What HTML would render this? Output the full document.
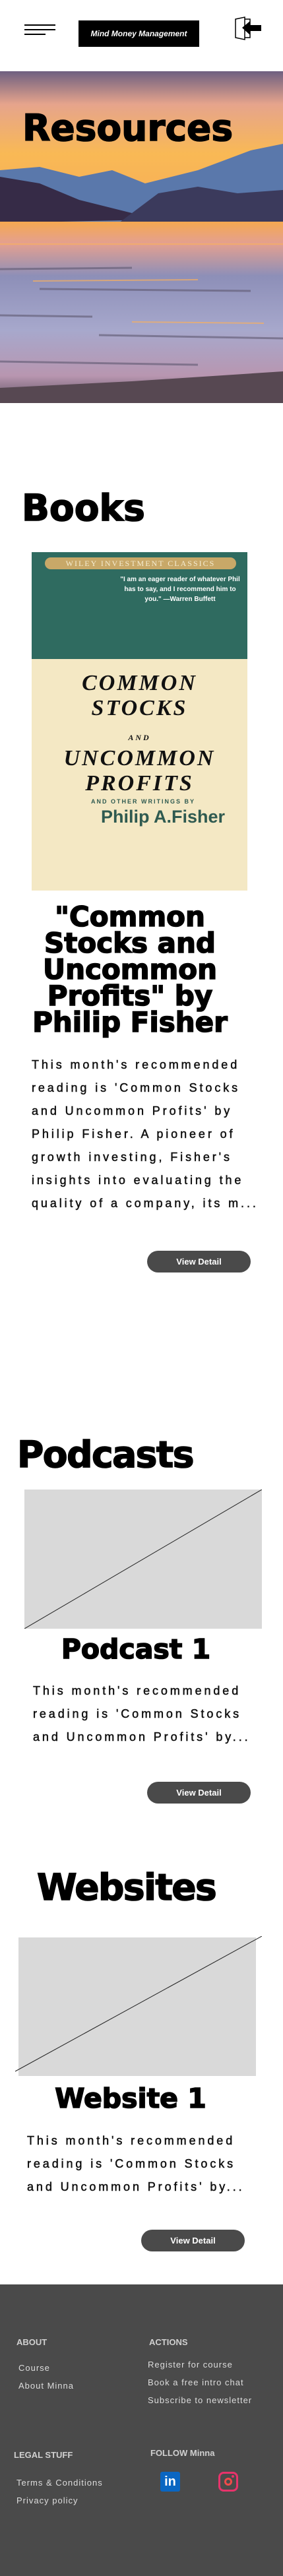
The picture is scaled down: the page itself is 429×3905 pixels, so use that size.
<!DOCTYPE html>
<html><head><meta charset="utf-8">
<style>
*{margin:0;padding:0;box-sizing:border-box}
body{width:429px;height:3905px;position:relative;background:#fff;font-family:"Liberation Sans",sans-serif;overflow:hidden}
.a{position:absolute}
.h{font-family:"DejaVu Sans","Liberation Sans",sans-serif;font-weight:bold;color:#000;white-space:nowrap;-webkit-text-stroke:1.6px #000}
.p{font-family:"Liberation Sans",sans-serif;font-size:18px;letter-spacing:3.9px;color:#111;white-space:nowrap;line-height:35px;-webkit-text-stroke:0.5px #111}
.btn{background:#4a4a4a;color:#fff;border-radius:17px;font-weight:bold;font-size:13px;text-align:center;line-height:33px;height:33px;width:157px}
.f{color:#ddd;font-size:13px;letter-spacing:1px;white-space:nowrap}
.fh{color:#d0d0d0;font-size:13px;font-weight:bold;white-space:nowrap}
</style></head><body>
<div class="a" style="left:37px;top:37px;width:47px;height:20px">
 <div class="a" style="left:0;top:0;width:47px;height:2px;background:#000"></div>
 <div class="a" style="left:0;top:7px;width:47px;height:2px;background:#000"></div>
 <div class="a" style="left:0;top:14px;width:32px;height:2px;background:#000"></div>
</div>
<div class="a" style="left:119px;top:31px;width:183px;height:40px;background:#000;color:#fff;font-weight:bold;font-style:italic;font-size:12px;text-align:center;line-height:40px">Mind Money Management</div>
<svg class="a" style="left:355px;top:24px" width="44" height="38" viewBox="0 0 44 38">
 <path d="M2 5 L16 2 L16 36 L2 33 Z" fill="none" stroke="#000" stroke-width="1.5"/><path d="M16 5 H24 V33 H16" fill="none" stroke="#000" stroke-width="1.5"/>
 <path d="M12 18 L24 8 V14 H41 V23 H24 V29 Z" fill="#000"/>
</svg>
<svg class="a" style="left:0;top:108px" width="429" height="503" viewBox="0 0 429 503">
 <defs>
  <linearGradient id="sky" x1="0" y1="0" x2="0" y2="1"><stop offset="0" stop-color="#6e5f80"/><stop offset=".2" stop-color="#e6a48c"/><stop offset=".5" stop-color="#f9b955"/><stop offset="1" stop-color="#f6a95a"/></linearGradient>
  <linearGradient id="wat" x1="0" y1="0" x2="0" y2="1"><stop offset="0" stop-color="#f5a850"/><stop offset=".12" stop-color="#e4a090"/><stop offset=".3" stop-color="#8d8fb8"/><stop offset=".6" stop-color="#a7a8cc"/><stop offset=".85" stop-color="#b896b0"/><stop offset="1" stop-color="#5c5060"/></linearGradient>
 </defs>
 <rect width="429" height="250" fill="url(#sky)"/>
 <path d="M0 150 L60 145 L120 160 L170 150 L220 170 L300 150 L380 120 L429 110 V250 H0Z" fill="#5a78ab"/>
 <path d="M0 160 L60 170 L120 195 L200 215 L230 225 L0 230Z" fill="#362b47"/>
 <path d="M180 230 L240 185 L300 175 L360 185 L429 180 V230Z" fill="#3b3a5c"/>
 <rect y="228" width="429" height="275" fill="url(#wat)"/>
 <g stroke="#5e5870" stroke-width="3" opacity=".6">
  <line x1="0" y1="300" x2="200" y2="298"/><line x1="60" y1="330" x2="380" y2="333"/><line x1="0" y1="370" x2="140" y2="372"/><line x1="150" y1="400" x2="429" y2="405"/><line x1="0" y1="440" x2="300" y2="445"/>
 </g>
 <g stroke="#f7b060" stroke-width="2" opacity=".7">
  <line x1="0" y1="262" x2="429" y2="262"/><line x1="50" y1="318" x2="300" y2="316"/><line x1="200" y1="380" x2="400" y2="382"/>
 </g>
 <path d="M0 480 L200 470 L429 455 V503 H0Z" fill="#574852"/>
</svg>
<div class="a h" style="left:34px;top:164px;font-size:55px;line-height:60px">Resources</div>

<div class="a h" style="left:33px;top:740px;font-size:55px;line-height:60px">Books</div>
<div class="a" style="left:48px;top:837px;width:327px;height:513px;background:#f4e8c4;overflow:hidden">
 <div class="a" style="left:0;top:0;width:327px;height:162px;background:#2f6b60"></div>
 <div class="a" style="left:20px;top:8px;width:290px;height:18px;border-radius:9px;background:#c8a868;color:#f5ecd0;font-family:'Liberation Serif',serif;font-size:12px;letter-spacing:2px;text-align:center;line-height:18px">WILEY INVESTMENT CLASSICS</div>
 <div class="a" style="left:130px;top:34px;width:190px;color:#fff;font-size:10px;font-weight:bold;text-align:center;line-height:15px">"I am an eager reader of whatever Phil has to say, and I recommend him to you." —Warren Buffett</div>
 <div class="a" style="left:0;top:180px;width:327px;font-family:'Liberation Serif',serif;font-weight:bold;font-style:italic;text-align:center;color:#111;font-size:34px;line-height:38px;letter-spacing:3px">COMMON<br>STOCKS<br><span style="font-size:12px;line-height:14px">AND</span><br>UNCOMMON<br>PROFITS</div>
 <div class="a" style="left:90px;top:373px;font-size:9px;font-weight:bold;letter-spacing:2px;color:#2f5a50">AND OTHER WRITINGS BY</div>
 <div class="a" style="left:105px;top:386px;font-size:27px;font-weight:bold;color:#2f5a50">Philip A.Fisher</div>
</div>
<div class="a h" style="left:0;top:1370px;width:394px;text-align:center;font-size:42px;line-height:40px">"Common<br>Stocks and<br>Uncommon<br>Profits" by<br>Philip Fisher</div>
<div class="a p" style="left:48px;top:1597px">This month's recommended<br>reading is 'Common Stocks<br>and Uncommon Profits' by<br>Philip Fisher. A pioneer of<br>growth investing, Fisher's<br>insights into evaluating the<br>quality of a company, its m...</div>
<div class="a btn" style="left:223px;top:1896px">View Detail</div>

<div class="a h" style="left:26px;top:2175px;font-size:55px;line-height:60px;letter-spacing:-1.5px">Podcasts</div>
<svg class="a" style="left:37px;top:2258px" width="360" height="211"><rect width="360" height="211" fill="#d9d9d9"/><line x1="0" y1="211" x2="360" y2="0" stroke="#222" stroke-width="1"/></svg>
<div class="a h" style="left:0;top:2478px;width:412px;text-align:center;font-size:41px;line-height:44px">Podcast 1</div>
<div class="a p" style="left:50px;top:2546px">This month's recommended<br>reading is 'Common Stocks<br>and Uncommon Profits' by...</div>
<div class="a btn" style="left:223px;top:2701px">View Detail</div>

<div class="a h" style="left:56px;top:2831px;font-size:55px;line-height:60px;letter-spacing:-1.5px">Websites</div>
<svg class="a" style="left:23px;top:2935px" width="374" height="212"><rect x="5" y="2" width="360" height="210" fill="#d9d9d9"/><line x1="0" y1="205" x2="374" y2="0" stroke="#222" stroke-width="1"/></svg>
<div class="a h" style="left:0;top:3159px;width:396px;text-align:center;font-size:41px;line-height:44px">Website 1</div>
<div class="a p" style="left:41px;top:3228px">This month's recommended<br>reading is 'Common Stocks<br>and Uncommon Profits' by...</div>
<div class="a btn" style="left:214px;top:3380px">View Detail</div>

<div class="a" style="left:0;top:3463px;width:429px;height:442px;background:#4a4a4a">
 <div class="a fh" style="left:25px;top:80px">ABOUT</div>
 <div class="a f" style="left:28px;top:119px">Course</div>
 <div class="a f" style="left:28px;top:146px">About Minna</div>
 <div class="a fh" style="left:226px;top:80px">ACTIONS</div>
 <div class="a f" style="left:224px;top:114px">Register for course</div>
 <div class="a f" style="left:224px;top:141px">Book a free intro chat</div>
 <div class="a f" style="left:224px;top:168px">Subscribe to newsletter</div>
 <div class="a fh" style="left:21px;top:251px">LEGAL STUFF</div>
 <div class="a f" style="left:25px;top:293px">Terms &amp; Conditions</div>
 <div class="a f" style="left:25px;top:320px">Privacy policy</div>
 <div class="a fh" style="left:228px;top:248px">FOLLOW Minna</div>
 <div class="a" style="left:243px;top:284px;width:30px;height:30px;background:#0a66c2;border-radius:3px;color:#fff;font-weight:bold;font-size:20px;text-align:center;line-height:30px">in</div>
 <div class="a" style="left:331px;top:284px;width:30px;height:30px;border-radius:8px;border:3px solid #e8336b">
  <div class="a" style="left:6px;top:6px;width:12px;height:12px;border:3px solid #f04a4a;border-radius:50%"></div>
  <div class="a" style="left:17px;top:2px;width:4px;height:4px;background:#e8336b;border-radius:50%"></div>
 </div>
</div>
</body></html>
